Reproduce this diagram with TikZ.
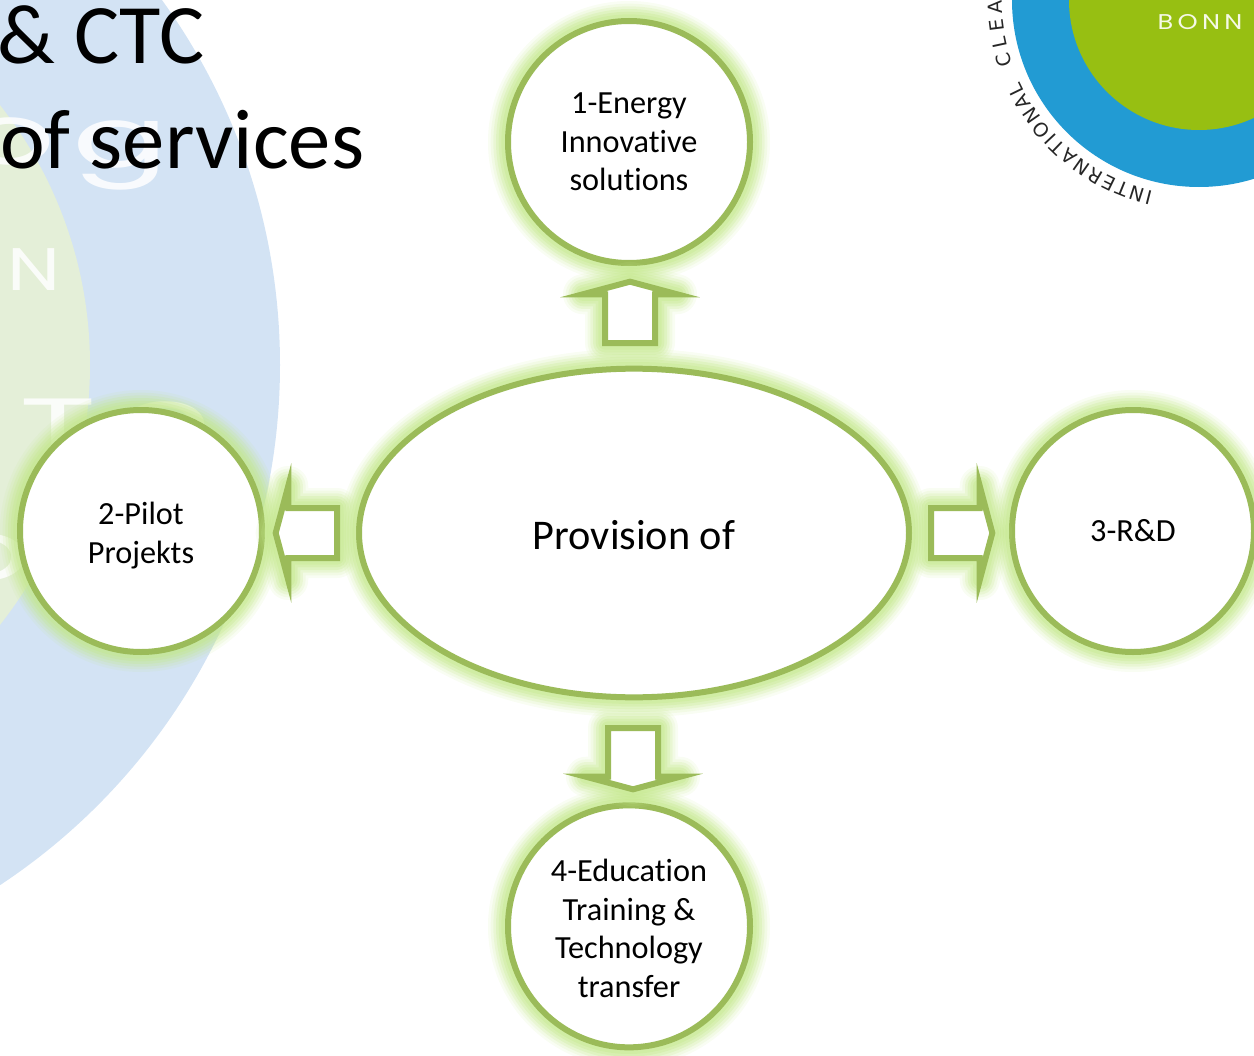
\documentclass[tikz,border=0pt]{standalone}
\usepackage{fontspec}
\setmainfont[Ligatures=NoCommon]{Carlito}
\newfontfamily\logofont{Poppins}
\newfontfamily\ringfont{DejaVu Sans}
\usetikzlibrary{positioning,shapes,decorations.text}
\definecolor{rimgreen}{HTML}{9BBB59}
\definecolor{glowgreen}{HTML}{C4E88C}
\definecolor{paleblue}{HTML}{D3E3F4}
\definecolor{palegreen}{HTML}{E4EFD8}
\definecolor{logoblue}{HTML}{229BD3}
\definecolor{logogreen}{HTML}{97BF12}

\begin{document}
\begin{tikzpicture}[
        x=.75pt, y=-.75pt,
        node distance=75.5pt and 73.5pt,
        glowing/.style={
            preaction={draw=glowgreen, line join=round, line width=30pt, opacity=.1},
            preaction={draw=glowgreen, line join=round, line width=26pt, opacity=.14},
            preaction={draw=glowgreen, line join=round, line width=22pt, opacity=.2},
            preaction={draw=glowgreen, line join=round, line width=18pt, opacity=.25},
            preaction={draw=glowgreen, line join=round, line width=14pt, opacity=.3},
            preaction={draw=glowgreen, line join=round, line width=10pt, opacity=.35}},
        bubble/.style={glowing, circle, draw=rimgreen, fill=white, line width=4.5pt, inner sep=0pt,
            minimum size=181.5pt, align=center, font=\fontsize{24.2}{29}\selectfont},
        blockarrow/.style={glowing, single arrow, draw=rimgreen, fill=white, line width=4.5pt,
            inner xsep=0pt, inner ysep=16.5pt, outer sep=0pt, anchor=tail, minimum height=46pt,
            minimum width=66pt, single arrow head extend=16.5pt, single arrow tip angle=150},
        ghost/.style={text=white, opacity=.85, inner sep=0pt, xscale=1.7, transform shape,
            font=\logofont\fontsize{63}{63}\selectfont},
        ringtext/.style={decorate, decoration={text along path, text align={fit to path},
            text={|\ringfont\fontsize{14.5}{14.5}\selectfont\color{black!85}|#1}}},
        title/.style={anchor=base west, inner sep=0pt, font=\fontsize{63.5}{63.5}\selectfont}
    ]

    \useasboundingbox (0,0) rectangle (1254,1056);
    \clip (0,0) rectangle (1254,1056);

    % Background
    \fill[paleblue] (-343,365) circle[radius=623];
    \fill[palegreen] (-330,365) circle[radius=420];
    \node[ghost] (ghostg) at (121,155) {g};
    \node[ghost] (ghosto) at (10,141) {o};
    \node[ghost, xscale=.74, font=\logofont\fontsize{45}{45}\selectfont] (ghostn) at (34,270) {N};
    \node[ghost] (ghostt) at (58,428) {T};
    \node[ghost] (ghoste) at (165,425) {o};
    \node[ghost] (ghostd) at (-15,557) {o};

    % Logo
    \fill[logoblue] (1199,0) circle[radius=187];
    \fill[logogreen] (1199,0) circle[radius=130];
    \node[text=white!90!logogreen, inner sep=0pt, xscale=1.2, transform shape,
        font=\logofont\fontsize{16}{16}\selectfont] (bonn) at (1200,22) {B\,O\,N\,N};
    \path[ringtext={INTERNATIONAL}] (1199,0) ++(103.5:197) arc[start angle=103.5, end angle=155.5, radius=197];
    \path[ringtext={CLEAN}] (1199,0) ++(161:197) arc[start angle=161, end angle=185.5, radius=197];

    % Title
    \node[title] (line1) at (-3,64) {\& CTC};
    \node[title] (line2) at (0,168) {of services};

    % Nodes
    \node[glowing, ellipse, draw=rimgreen, fill=white, line width=4.5pt, inner sep=0pt,
        minimum width=412.5pt, minimum height=246.5pt, font=\fontsize{31.7}{36}\selectfont] (provision) at (634,533) {\rule{0pt}{24.5pt}Provision of};

    \node[bubble] (energy) [above=of provision, xshift=-3.75pt, yshift=-.75pt] {1-Energy \\ Innovative \\ solutions};
    \node[bubble] (pilot) [left=of provision, xshift=5.25pt, yshift=1.5pt] {\rule{0pt}{24pt}2-Pilot \\ Projekts};
    \node[bubble] (rd) [right=of provision, xshift=-.75pt, yshift=1.5pt] {3-R\&D};
    \node[bubble] (education) [below=of provision, xshift=-3.75pt, yshift=-1pt] {\rule{0pt}{20pt}4-Education \\ Training \& \\ Technology \\ transfer};

    % Arrows
    \node[blockarrow, rotate=90] (toenergy) at (630,343) {};
    \node[blockarrow, rotate=180] (topilot) at (337,533) {};
    \node[blockarrow] (tord) at (931,533) {};
    \node[blockarrow, rotate=-90] (toeducation) at (633,728) {};

\end{tikzpicture}
\end{document}
